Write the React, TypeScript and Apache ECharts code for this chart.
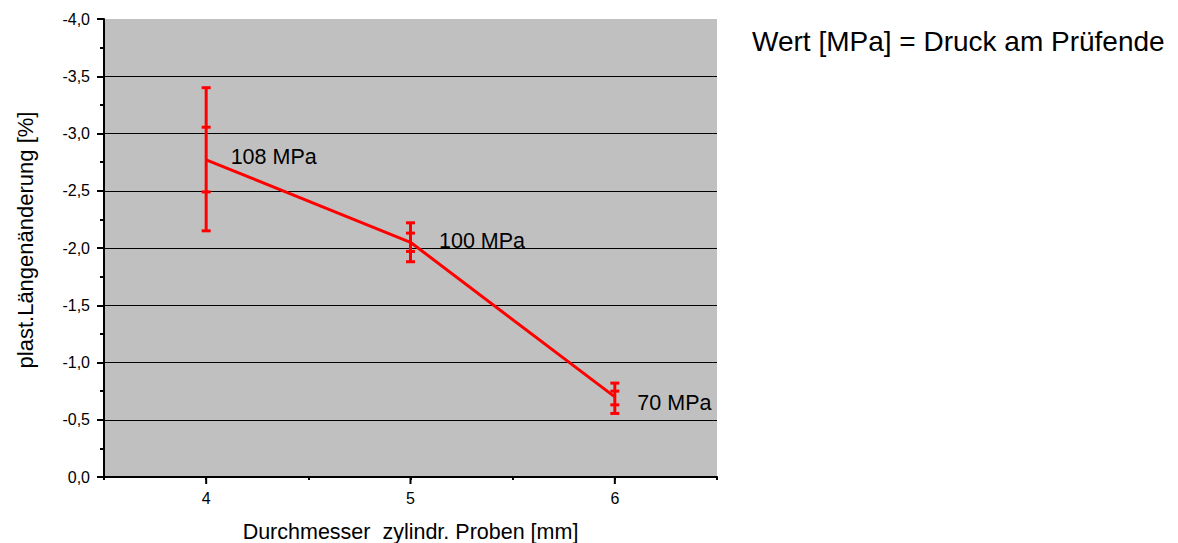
import React, { useEffect, useRef } from "react";
import * as echarts from "echarts";

const xValues = [4, 5, 6];
const meanValues = [-2.77, -2.05, -0.7];
const outerLow = [-2.15, -1.88, -0.555];
const outerHigh = [-3.4, -2.22, -0.82];
const innerLow = [-2.49, -1.97, -0.63];
const innerHigh = [-3.055, -2.13, -0.75];
const pressureLabels = ["108 MPa", "100 MPa", "70 MPa"];
const xMajorTicks = [4, 5, 6];
const noteText = "Wert [MPa] = Druck am Prüfende";
const xTitle = "Durchmesser  zylindr. Proben [mm]";
const yTitle = "plast.Längenänderung [%]";

const FONT = "'Liberation Sans', Arial, sans-serif";
const labelOffsets: [number, number][] = [[0, -3], [4, -1], [-2, 6]];

export default function App() {
  const ref = useRef<HTMLDivElement>(null);
  useEffect(() => {
    if (!ref.current) return;
    const chart = echarts.init(ref.current, null, { renderer: "svg" });
    const red = "#ff0000";
    chart.setOption({
      animation: false,
      textStyle: { fontFamily: FONT },
      grid: {
        left: 104,
        top: 19,
        right: 461,
        bottom: 66,
        containLabel: false,
        outerBoundsMode: "none",
        show: true,
        backgroundColor: "#c0c0c0",
        borderWidth: 0,
      },
      graphic: [
        {
          type: "text",
          x: 752,
          y: 41,
          style: {
            text: noteText,
            fontFamily: FONT,
            fontSize: 28,
            fill: "#000",
            verticalAlign: "middle",
          },
        },
        {
          type: "text",
          x: 25,
          y: 240,
          rotation: Math.PI / 2,
          style: {
            text: yTitle,
            fontFamily: FONT,
            fontSize: 22,
            fill: "#000",
            align: "center",
            verticalAlign: "middle",
          },
        },
      ],
      xAxis: {
        type: "value",
        min: 3.5,
        max: 6.5,
        interval: 0.5,
        name: xTitle,
        nameLocation: "middle",
        nameGap: 44,
        nameTextStyle: { fontFamily: FONT, fontSize: 21.5, color: "#000" },
        axisLine: { show: true, onZero: false, lineStyle: { color: "#000", width: 2 } },
        axisTick: { show: true, length: 3, lineStyle: { color: "#000", width: 2 } },
        axisLabel: {
          fontFamily: FONT,
          fontSize: 16,
          color: "#000",
          margin: 13,
          formatter: (v: number) => (Number.isInteger(v) ? String(v) : ""),
        },
        splitLine: { show: false },
      },
      yAxis: {
        type: "value",
        inverse: true,
        min: -4,
        max: 0,
        interval: 0.5,
        axisLine: { show: true, onZero: false, lineStyle: { color: "#000", width: 2 } },
        axisTick: { show: true, length: 7, lineStyle: { color: "#000", width: 2 } },
        minorTick: { show: true, splitNumber: 2, length: 4, lineStyle: { color: "#000", width: 2 } },
        axisLabel: {
          fontFamily: FONT,
          fontSize: 16,
          color: "#000",
          margin: 14,
          formatter: (v: number) => v.toFixed(1).replace(".", ","),
        },
        splitLine: {
          show: true,
          showMinLine: false,
          showMaxLine: false,
          lineStyle: { color: "#000", width: 1 },
        },
      },
      series: [
        {
          type: "custom",
          name: "errors",
          silent: true,
          clip: false,
          z: 3,
          data: xValues.map((x, i) => [x, outerLow[i], outerHigh[i], innerLow[i], innerHigh[i]]),
          renderItem: (params: any, api: any) => {
            const x = api.value(0);
            const top = api.coord([x, api.value(2)]);
            const bot = api.coord([x, api.value(1)]);
            const it = api.coord([x, api.value(4)]);
            const ib = api.coord([x, api.value(3)]);
            const hw = 4.5;
            const style = { stroke: red, lineWidth: 3, fill: "none" };
            const cap = (p: number[]) => ({
              type: "line",
              shape: { x1: p[0] - hw, y1: p[1], x2: p[0] + hw, y2: p[1] },
              style,
            });
            return {
              type: "group",
              children: [
                { type: "line", shape: { x1: top[0], y1: top[1], x2: bot[0], y2: bot[1] }, style },
                cap(top),
                cap(bot),
                cap(it),
                cap(ib),
              ],
            };
          },
        },
        {
          type: "line",
          name: "mean",
          z: 4,
          symbol: "circle",
          symbolSize: 1,
          showSymbol: true,
          data: xValues.map((x, i) => ({
            value: [x, meanValues[i]],
            label: {
              show: true,
              position: "right",
              distance: 24,
              offset: labelOffsets[i],
              formatter: pressureLabels[i],
              fontFamily: FONT,
              fontSize: 21.5,
              color: "#000",
            },
          })),
          lineStyle: { color: red, width: 3 },
          itemStyle: { color: red },
        },
        {
          type: "custom",
          name: "majorTicks",
          silent: true,
          clip: false,
          z: 5,
          data: xMajorTicks.map((v) => [v, 0]),
          renderItem: (params: any, api: any) => {
            const p = api.coord([api.value(0), api.value(1)]);
            return {
              type: "line",
              shape: { x1: p[0], y1: p[1], x2: p[0], y2: p[1] + 7 },
              style: { stroke: "#000", lineWidth: 2 },
            };
          },
        },
      ],
    });
    return () => chart.dispose();
  }, []);
  return <div ref={ref} style={{ width: 1178, height: 543, position: "absolute", left: 0, top: 0 }} />;
}
